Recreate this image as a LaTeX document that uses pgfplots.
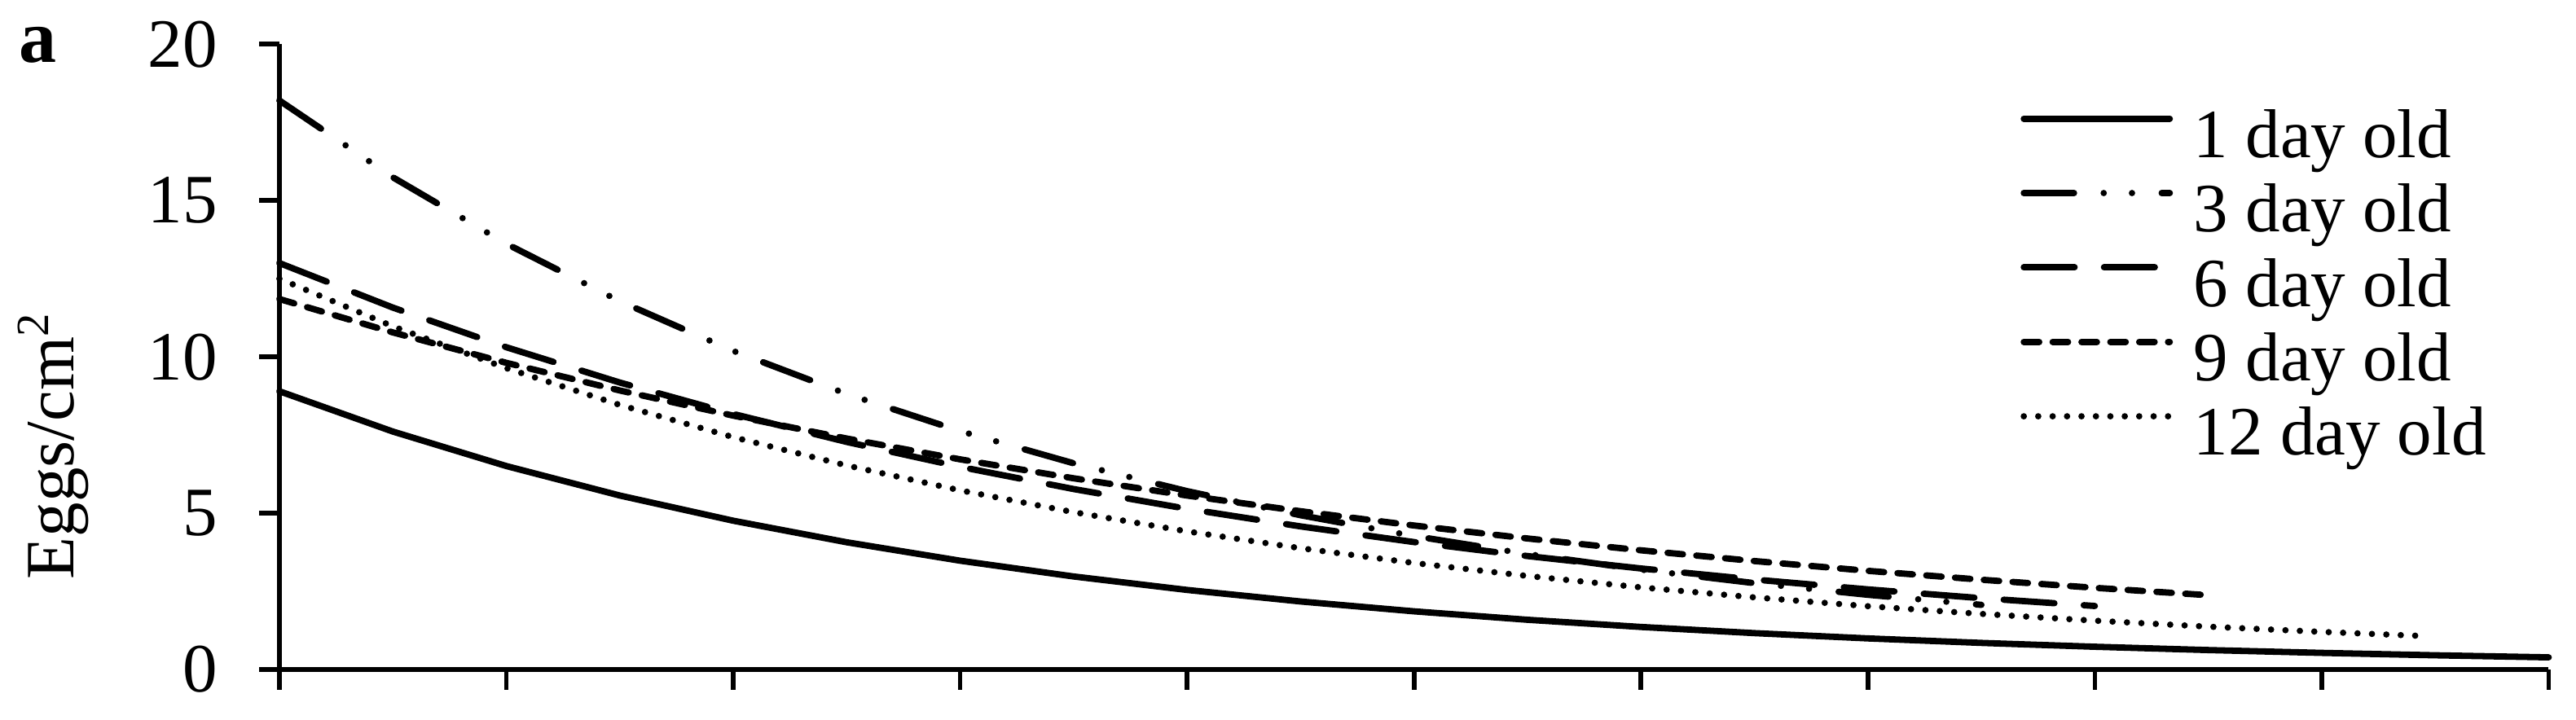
\documentclass[border=0pt]{standalone}
\usepackage{fontspec}
\setmainfont{Liberation Serif}
\usepackage{pgfplots}
\pgfplotsset{compat=1.18}

\begin{document}
\begin{tikzpicture}
\begin{axis}[
  scale only axis, width=393.3pt, height=108.4pt,
  xmin=0, xmax=10, ymin=0, ymax=20,
  enlargelimits=false,
  axis lines=left, axis line style={-, line width=0.85pt},
  xtick={0,1,...,10}, xticklabels={},
  ytick={0,5,...,20},
  tick align=outside, major tick length=3.5pt,
  every tick/.style={line width=0.8pt, black},
  /pgf/number format/assume math mode=true,
  yticklabel style={font=\fontsize{12}{14}\selectfont, inner sep=0pt, anchor=east, xshift=-7.1pt},
  ylabel={Eggs/cm\textsuperscript{2}},
  ylabel style={at={(axis description cs:-0.0908,0.359)}, anchor=base, font=\fontsize{12}{14}\selectfont},
  every axis plot/.append style={line width=1.1pt, line cap=round, black, no markers},
  legend style={
    at={(axis description cs:0.7673,0.9036)}, anchor=north west,
    draw=none, fill=none, inner sep=0pt, outer sep=0pt,
    row sep=0pt, column sep=3.6pt,
    font=\fontsize{12}{14}\selectfont,
    nodes={inner sep=0pt, text height=9.2pt, text depth=3.7pt},
  },
  legend cell align=left,
  legend image code/.code={\draw[#1] (0pt,4pt) -- (25.3pt,4pt);},
  clip=false,
]
\coordinate (O) at (rel axis cs:0,0);
% 1 day old
\addplot[solid] coordinates {
(0,8.900) (0.5,7.611) (1,6.508) (1.5,5.565) (2,4.759) (2.5,4.070) (3,3.480)
(3.5,2.976) (4,2.545) (4.5,2.176) (5,1.861) (5.5,1.591) (6,1.361) (6.5,1.164)
(7,0.995) (7.5,0.851) (8,0.728) (8.5,0.622) (9,0.532) (9.5,0.455) (10,0.389)};
\addlegendentry{1 day old}
% 3 day old
\addplot[dash pattern=on 8.7pt off 5.15pt on 0pt off 4.9pt on 0pt off 5.15pt] coordinates {
(0,18.200) (0.5,15.743) (1,13.618) (1.5,11.780) (2,10.190) (2.5,8.814) (3,7.625)
(3.5,6.596) (4,5.705) (4.5,4.935) (5,4.269) (5.5,3.693) (6,3.194) (6.5,2.763)
(7,2.390) (7.5,2.068)};
\addlegendentry{3 day old}
% 6 day old
\addplot[dash pattern=on 8.8pt off 5.1pt] coordinates {
(0,13.000) (0.5,11.576) (1,10.308) (1.5,9.179) (2,8.174) (2.5,7.279) (3,6.482)
(3.5,5.772) (4,5.140) (4.5,4.577) (5,4.076) (5.5,3.629) (6,3.232) (6.5,2.878)
(7,2.563) (7.5,2.282) (8,2.032)};
\addlegendentry{6 day old}
% 9 day old
\addplot[dash pattern=on 2.67pt off 2.33pt] coordinates {
(0,11.850) (0.5,10.782) (1,9.809) (1.5,8.925) (2,8.120) (2.5,7.388) (3,6.722)
(3.5,6.116) (4,5.564) (4.5,5.063) (5,4.606) (5.5,4.191) (6,3.813) (6.5,3.469)
(7,3.156) (7.5,2.872) (8,2.613) (8.5,2.377)};
\addlegendentry{9 day old}
% 12 day old
\addplot[dash pattern=on 0pt off 2.5pt] coordinates {
(0,12.500) (0.5,10.976) (1,9.638) (1.5,8.463) (2,7.432) (2.5,6.526) (3,5.730)
(3.5,5.032) (4,4.418) (4.5,3.880) (5,3.407) (5.5,2.992) (6,2.627) (6.5,2.307)
(7,2.025) (7.5,1.779) (8,1.562) (8.5,1.371) (9,1.204) (9.44,1.074)};
\addlegendentry{12 day old}
\node[anchor=base, font=\fontsize{13}{15}\selectfont\bfseries] at (axis description cs:-0.1065,0.971) {a};
\end{axis}
\pgfresetboundingbox
\path[use as bounding box] (O) ++(-48.43pt,-8.75pt) rectangle ++(446.47pt,124.82pt);
\end{tikzpicture}
\end{document}
